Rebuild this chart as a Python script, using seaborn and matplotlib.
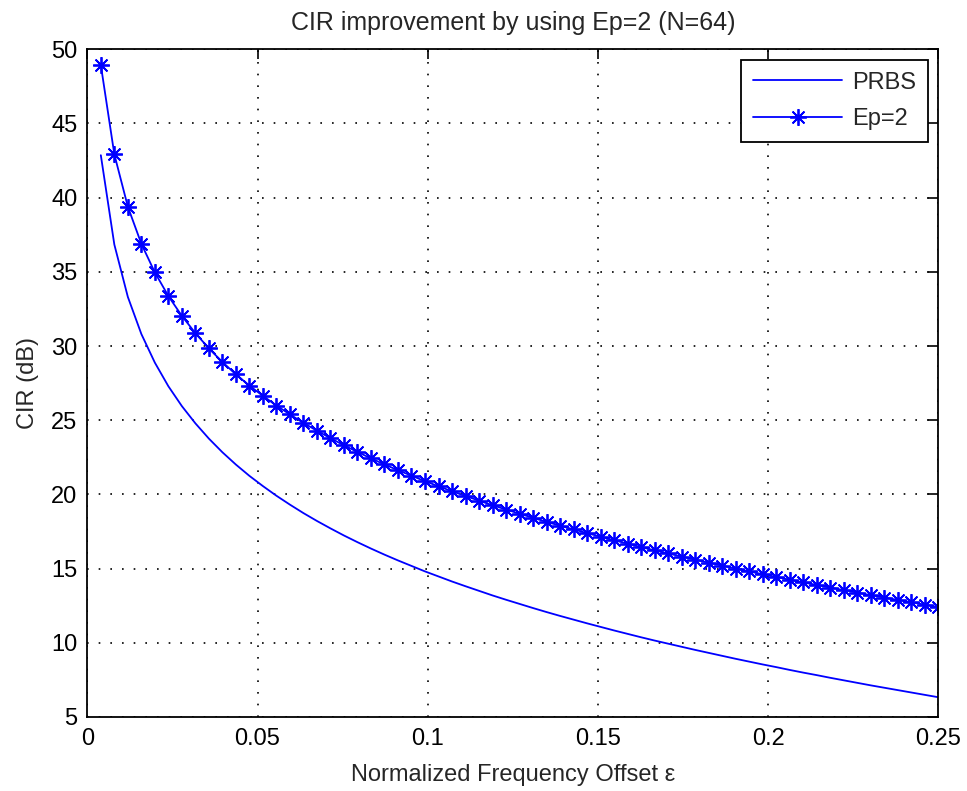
import numpy as np
import pandas as pd
import matplotlib
matplotlib.use("Agg")
import matplotlib.pyplot as plt
import seaborn as sns

# ---- data ----
eps = np.linspace(0, 0.25, 64)[1:]   # normalized frequency offset grid

prbs = [42.86, 36.84, 33.31, 30.81, 28.88, 27.29, 25.95, 24.79, 23.76, 22.84,
        22.01, 21.25, 20.56, 19.91, 19.31, 18.74, 18.21, 17.71, 17.23, 16.78,
        16.35, 15.94, 15.55, 15.18, 14.81, 14.47, 14.13, 13.81, 13.50, 13.19,
        12.90, 12.62, 12.34, 12.07, 11.81, 11.56, 11.31, 11.07, 10.83, 10.60,
        10.37, 10.15, 9.94, 9.73, 9.52, 9.32, 9.12, 8.92, 8.73, 8.54,
        8.36, 8.17, 7.99, 7.82, 7.64, 7.47, 7.30, 7.13, 6.97, 6.81,
        6.65, 6.49, 6.33]

ep2 = [48.94, 42.92, 39.39, 36.89, 34.96, 33.37, 32.03, 30.87, 29.84, 28.92,
       28.09, 27.33, 26.64, 25.99, 25.39, 24.82, 24.29, 23.79, 23.31, 22.86,
       22.43, 22.02, 21.63, 21.26, 20.89, 20.55, 20.21, 19.89, 19.58, 19.27,
       18.98, 18.70, 18.42, 18.15, 17.89, 17.64, 17.39, 17.15, 16.91, 16.68,
       16.45, 16.23, 16.02, 15.81, 15.60, 15.40, 15.20, 15.00, 14.81, 14.62,
       14.44, 14.25, 14.07, 13.90, 13.72, 13.55, 13.38, 13.21, 13.05, 12.89,
       12.73, 12.57, 12.41]

series_names = ["PRBS", "Ep=2"]
x_ticks = [0, 0.05, 0.1, 0.15, 0.2, 0.25]
x_ticklabels = ["0", "0.05", "0.1", "0.15", "0.2", "0.25"]
y_ticks = [5, 10, 15, 20, 25, 30, 35, 40, 45, 50]

df = pd.DataFrame({"eps": eps, "PRBS": prbs, "Ep=2": ep2})

sns.set_style("white")
plt.rcParams["font.family"] = ["Liberation Sans", "DejaVu Sans"]

fig = plt.figure(figsize=(9.67, 7.91), dpi=100)
ax = fig.add_axes([0.0903, 0.0936, 0.8800, 0.8441])

blue = "#0000FF"
sns.lineplot(data=df, x="eps", y="PRBS", ax=ax, color=blue, linewidth=1.3,
             label=series_names[0])
sns.lineplot(data=df, x="eps", y="Ep=2", ax=ax, color=blue, linewidth=1.3,
             marker=(8, 2, 0), markersize=12, markeredgewidth=1.3,
             markeredgecolor=blue, markerfacecolor=blue, label=series_names[1])

ax.set_xlim(0, 0.25)
ax.set_ylim(5, 50)
ax.set_xticks(x_ticks)
ax.set_xticklabels(x_ticklabels)
ax.set_yticks(y_ticks)

ax.grid(True, color="black", linestyle=(0, (1, 6)), linewidth=1.2)
ax.tick_params(direction="in", top=True, right=True, length=7, width=1.2,
               labelsize=17, colors="black")
ax.tick_params(axis="x", pad=8)
ax.tick_params(axis="y", pad=7)
for s in ax.spines.values():
    s.set_color("black")
    s.set_linewidth(1.3)

ax.set_xlabel("Normalized Frequency Offset \u03b5", fontsize=17, labelpad=10)
ax.set_ylabel("CIR (dB)", fontsize=17, labelpad=9)
ax.set_title("CIR improvement by using Ep=2 (N=64)", fontsize=18, pad=14)

leg = ax.legend(loc="upper right", fontsize=17, frameon=True, fancybox=False,
                edgecolor="black", framealpha=1, borderaxespad=0.45,
                handlelength=3.8, handletextpad=0.4, borderpad=0.5,
                labelspacing=0.6, numpoints=1)
leg.get_frame().set_linewidth(1.3)

fig.savefig("out.png", dpi=100, facecolor="white")
